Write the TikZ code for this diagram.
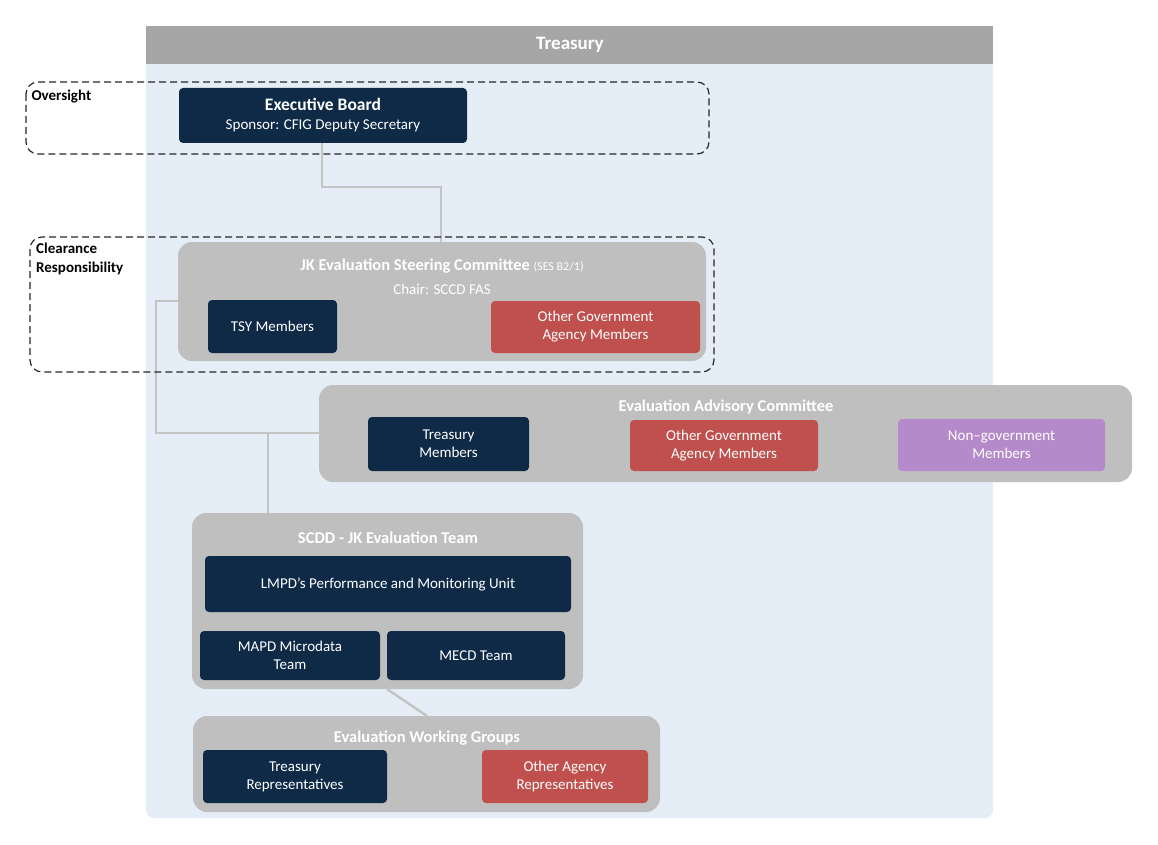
\documentclass[tikz,border=0pt]{standalone}
\usepackage{fontspec}
\setmainfont{Carlito}
\begin{document}
\begin{tikzpicture}[x=1pt,y=-1pt,
  navy/.style={fill=navyc,rounded corners=4pt,text=white,font=\fontsize{15}{18}\selectfont,align=center},
  red/.style={navy,fill=redc},
  purp/.style={navy,fill=purpc},
  grp/.style={fill=grayc,rounded corners=14pt},
  gtitle/.style={text=white,font=\fontsize{16.5}{19}\selectfont\bfseries},
  dashbox/.style={draw=black!85,dash pattern=on 7pt off 4pt,line width=1.2pt,rounded corners=12pt},
  conn/.style={draw=connc,line width=2.5pt}]
\definecolor{navyc}{HTML}{0F2A47}
\definecolor{redc}{HTML}{C0504D}
\definecolor{purpc}{HTML}{B48ACA}
\definecolor{grayc}{HTML}{BFBFBF}
\definecolor{bluec}{HTML}{E5EEF6}
\definecolor{headc}{HTML}{A6A6A6}
\definecolor{connc}{HTML}{C4C4C4}
\useasboundingbox (0,0) rectangle (1158,845);
\fill[bluec,rounded corners=8pt] (146,40) rectangle (993,818);
\fill[headc] (146,26) rectangle (993,64);
\node[gtitle,font=\fontsize{19}{22}\selectfont\bfseries] (tsy) at (570,45) {Treasury};
% groups
\path[grp] (178,242) rectangle (706,361);
\path[grp] (319,385) rectangle (1132,482);
\path[grp] (192,513) rectangle (583,689);
\path[grp] (193,716) rectangle (660,812);
\node[gtitle] (st) at (442,266) {JK Evaluation Steering Committee \fontsize{12}{14}\selectfont\mdseries (SES B2/1)};
\node[text=white,font=\fontsize{15}{18}\selectfont] (chair) at (442,289) {Chair: SCCD FAS};
\node[gtitle] (adv) at (726,407) {Evaluation Advisory Committee};
\node[gtitle] (team) at (388,538) {SCDD - JK Evaluation Team};
\node[gtitle] (wg) at (427,738) {Evaluation Working Groups};
% connectors
\coordinate (c1) at (322,187); \coordinate (c2) at (441,187);
\coordinate (s1) at (178,301); \coordinate (s2) at (156,301); \coordinate (s3) at (156,433);
\coordinate (a1) at (319,433); \coordinate (j1) at (268,433); \coordinate (t1) at (268,513);
\coordinate (t2) at (387,689); \coordinate (w1) at (427,716);
\coordinate (e1) at (322,143); \coordinate (st1) at (441,242);
\draw[conn] (e1) -- (c1) -- (c2) -- (st1);
\draw[conn] (s1) -- (s2) -- (s3) -- (a1);
\draw[conn] (j1) -- (t1);
\draw[conn] (t2) -- (w1);
% dashed regions
\draw[dashbox] (26,82) rectangle (709,154);
\draw[dashbox] (30,237) rectangle (714,372);
\node[anchor=west,font=\fontsize{15}{18}\selectfont\bfseries] (ov) at (28,97) {Oversight};
\node[anchor=north west,align=left,font=\fontsize{15}{19}\selectfont\bfseries,inner sep=0pt] (cl) at (36,243) {Clearance\\Responsibility};
% boxes
\node[navy,minimum width=288pt,minimum height=55pt] (exec) at (323,115.5) {\fontsize{17.5}{21}\selectfont\bfseries Executive Board\\[1pt]Sponsor: CFIG Deputy Secretary};
\node[navy,minimum width=129pt,minimum height=53pt] (tsym) at (272.5,326.5) {TSY Members};
\node[red,minimum width=209pt,minimum height=52pt] (ogam1) at (595.5,327) {Other Government\\Agency Members};
\node[navy,minimum width=161pt,minimum height=54pt] (trm) at (448.5,444) {Treasury\\Members};
\node[red,minimum width=188pt,minimum height=51pt] (ogam2) at (724,445.5) {Other Government\\Agency Members};
\node[purp,minimum width=207pt,minimum height=52pt] (ngm) at (1001.5,445) {Non--government\\Members};
\node[navy,minimum width=366pt,minimum height=56pt] (lmpd) at (388,584) {LMPD’s Performance and Monitoring Unit};
\node[navy,minimum width=180pt,minimum height=49pt] (mapd) at (290,655.5) {MAPD Microdata\\Team};
\node[navy,minimum width=178pt,minimum height=49pt] (mecd) at (476,655.5) {MECD Team};
\node[navy,minimum width=184pt,minimum height=53pt] (trr) at (295,776.5) {Treasury\\Representatives};
\node[red,minimum width=166pt,minimum height=53pt] (oar) at (565,776.5) {Other Agency\\Representatives};
\end{tikzpicture}
\end{document}
